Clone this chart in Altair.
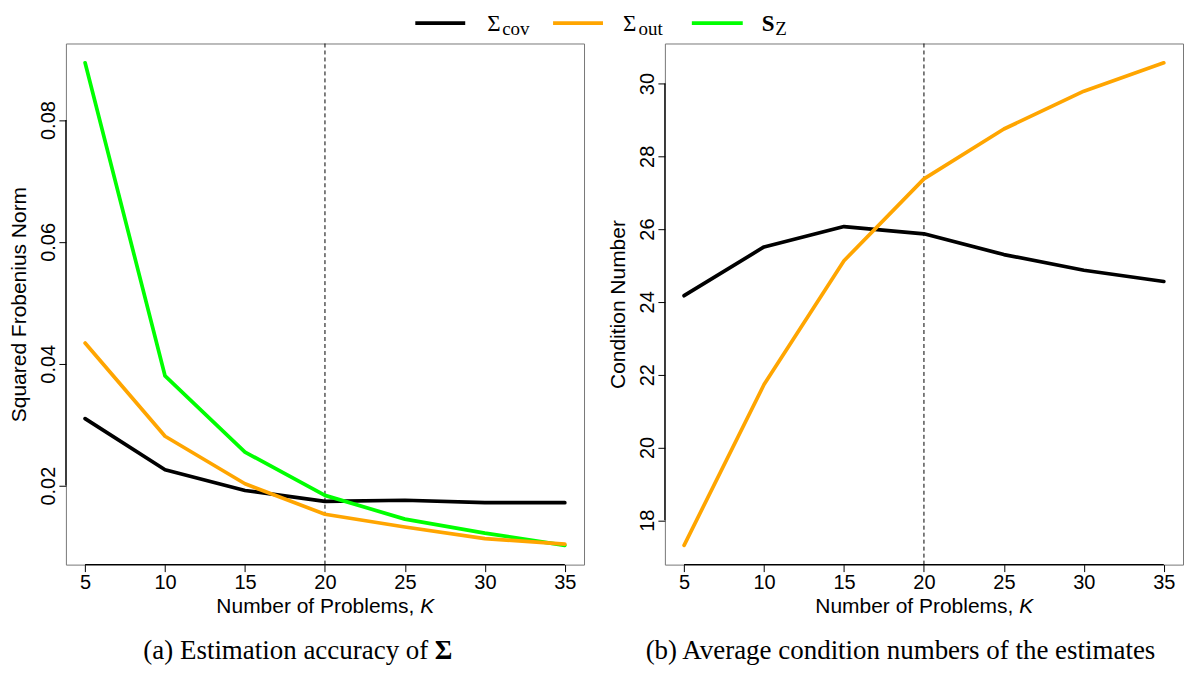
import altair as alt
import pandas as pd

# ---------------- data ----------------
K = [5, 10, 15, 20, 25, 30, 35]
frob_cov = [0.0310, 0.0226, 0.0192, 0.0174, 0.0176, 0.0172, 0.0172]
frob_out = [0.0434, 0.0281, 0.0203, 0.0153, 0.0132, 0.0113, 0.0104]
frob_sz = [0.0894, 0.0380, 0.0255, 0.0184, 0.0145, 0.0122, 0.0102]
cond_cov = [24.17, 25.51, 26.07, 25.87, 25.30, 24.87, 24.56]
cond_out = [17.31, 21.73, 25.13, 27.38, 28.75, 29.79, 30.57]

x_ticks = [5, 10, 15, 20, 25, 30, 35]
frob_ticks = [0.02, 0.04, 0.06, 0.08]
cond_ticks = [18, 20, 22, 24, 26, 28, 30]
ref_k = 20

colors = {"cov": "#000000", "out": "#FFA500", "SZ": "#00FF00"}

# ---------------- style ----------------
W, H = 519, 522
GAP = 81
TOP = 34            # room above the plots (legend strip)
SANS = "Liberation Sans"
SERIF = "Liberation Serif"
LW = 3.7
one = pd.DataFrame({"a": [0]})


def r_limits(vals):
    lo, hi = min(vals), max(vals)
    d = (hi - lo) * 0.04
    return [lo - d, hi + d]


x_scale = alt.Scale(domain=r_limits(K), nice=False, zero=False)
x_axis = alt.Axis(values=x_ticks, title=None, labelFlush=False, format="d")


def text(t, x, y, size, align="left", font=SERIF, weight="normal", style="normal"):
    return alt.Chart(one).mark_text(
        text=t, align=align, baseline="alphabetic", font=font, fontSize=size,
        fontWeight=weight, fontStyle=style, color="black"
    ).encode(x=alt.value(x), y=alt.value(y))


def panel(series, y_title, y_ticks, y_fmt, extra_layers):
    allv = [v for _, vals in series for v in vals]
    ys = alt.Scale(domain=r_limits(allv), nice=False, zero=False)
    ya = alt.Axis(values=y_ticks, title=y_title, format=y_fmt, labelFlush=False)
    X = alt.X("K:Q", scale=x_scale, axis=x_axis)
    Y = alt.Y("v:Q", scale=ys, axis=ya)
    layers = [
        alt.Chart(pd.DataFrame({"K": [ref_k]}))
        .mark_rule(color="black", strokeWidth=1, strokeDash=[4, 3])
        .encode(x=X)
    ]
    for name, vals in series:
        df = pd.DataFrame({"K": K, "v": vals})
        layers.append(
            alt.Chart(df)
            .mark_line(color=colors[name], strokeWidth=LW, strokeCap="round", strokeJoin="round")
            .encode(x=X, y=Y)
        )
    layers.append(
        alt.Chart(pd.DataFrame({"K": [min(x_ticks)], "K2": [max(x_ticks)]}))
        .mark_rule(color="black", strokeWidth=1.3)
        .encode(x=X, x2="K2", y=alt.value(H))
    )
    layers.append(
        alt.Chart(pd.DataFrame({"v": [min(y_ticks)], "v2": [max(y_ticks)]}))
        .mark_rule(color="black", strokeWidth=1.3)
        .encode(y=Y, y2="v2", x=alt.value(0))
    )
    # x axis title with italic K
    layers.append(text("Number of Problems,", 349, H + 48, 21, align="right", font=SANS))
    layers.append(text("K", 355, H + 48, 21, align="left", font=SANS, style="italic"))
    layers += extra_layers
    return alt.layer(*layers).properties(
        width=W, height=H, view=alt.ViewBackground(stroke="#777777", strokeWidth=1)
    )


# ---------------- legend (drawn above the left panel, spanning both) ----------------
LB = -13            # baseline of the legend symbols, relative to the top of the plots
leg = [
    # invisible spacer fixing the top edge of the figure
    alt.Chart(one).mark_rule(opacity=0)
    .encode(x=alt.value(0), x2=alt.value(1), y=alt.value(-TOP))
]
for name, (x0, x1) in zip(["cov", "out", "SZ"], [(350, 400), (488, 538), (627, 678)]):
    leg.append(
        alt.Chart(one).mark_rule(color=colors[name], strokeWidth=LW)
        .encode(x=alt.value(x0), x2=alt.value(x1), y=alt.value(LB - 7.5))
    )
leg += [
    text("Σ", 422, LB, 23),
    text("cov", 437, LB + 4.3, 19),
    text("Σ", 558, LB, 23),
    text("out", 573.5, LB + 4.3, 19),
    text("S", 697, LB, 23, weight="bold"),
    text("Z", 710.5, LB + 4.3, 19),
]

CAP = H + 95
left = panel(
    [("cov", frob_cov), ("SZ", frob_sz), ("out", frob_out)],
    "Squared Frobenius Norm", frob_ticks, ".2f",
    [
        text("(a) Estimation accuracy of", 363, CAP, 27, align="right"),
        text("Σ", 369.5, CAP, 27, align="left", weight="bold"),
    ] + leg,
)
right = panel(
    [("cov", cond_cov), ("out", cond_out)],
    "Condition Number", cond_ticks, "d",
    [text("(b) Average condition numbers of the estimates", 236, CAP, 27, align="center")],
)

chart = (
    alt.hconcat(left, right, spacing=GAP, bounds="flush")
    .properties(padding=0)
    .configure_view(stroke="transparent")
    .configure_axis(
        domain=False, grid=False, ticks=True, tickSize=7, tickColor="black", tickWidth=1,
        labelFont=SANS, labelFontSize=20, labelColor="black",
        titleFont=SANS, titleFontSize=21, titleFontWeight="normal", titleColor="black",
    )
    .configure_axisX(labelPadding=1)
    .configure_axisY(labelAngle=270, labelAlign="center", labelBaseline="alphabetic",
                     labelPadding=4, titlePadding=9)
)

chart.save("out.html", embed_options={"renderer": "svg", "actions": False})
